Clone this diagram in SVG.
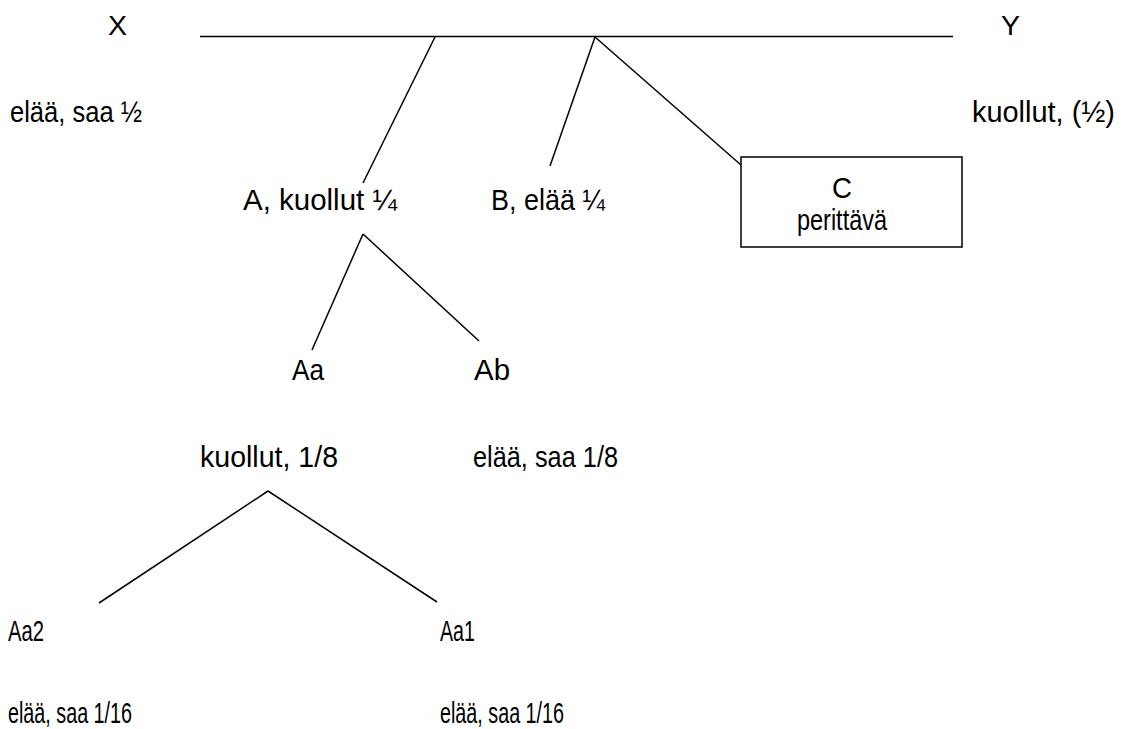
<svg xmlns="http://www.w3.org/2000/svg" width="1129" height="729" viewBox="0 0 1129 729">
<style>
text{font-family:"Liberation Sans",Arial,sans-serif;font-size:30px;fill:#000}
.big{font-size:28px}
line{stroke:#000;stroke-width:1.5}
rect{fill:#fff;stroke:#000;stroke-width:1.5}
</style>
<rect x="0" y="0" width="1129" height="729" style="stroke:none"/>
<g id="connectors">
<line x1="200" y1="36.5" x2="953" y2="36.5"/>
<line x1="435" y1="37" x2="363" y2="183"/>
<line x1="595" y1="37" x2="550" y2="166"/>
<line x1="595" y1="37" x2="741" y2="165"/>
<line x1="363" y1="234" x2="312" y2="350"/>
<line x1="363" y1="234" x2="479" y2="341"/>
<line x1="268" y1="491" x2="99" y2="603"/>
<line x1="268" y1="491" x2="437" y2="602"/>
</g>
<g id="X"><text class="big" x="108" y="35" textLength="19" lengthAdjust="spacingAndGlyphs">X</text><text x="10" y="122" textLength="132" lengthAdjust="spacingAndGlyphs">elää, saa ½</text></g>
<g id="Y"><text class="big" x="1001" y="35" textLength="19" lengthAdjust="spacingAndGlyphs">Y</text><text x="972" y="122" textLength="143" lengthAdjust="spacingAndGlyphs">kuollut, (½)</text></g>
<g id="A"><text x="243" y="210" textLength="154" lengthAdjust="spacingAndGlyphs">A, kuollut ¼</text></g>
<g id="B"><text x="491" y="210" textLength="114" lengthAdjust="spacingAndGlyphs">B, elää ¼</text></g>
<g id="C"><rect x="741" y="157" width="221" height="90"/><text x="842" y="198" text-anchor="middle" textLength="20" lengthAdjust="spacingAndGlyphs">C</text><text x="842" y="230" text-anchor="middle" textLength="90" lengthAdjust="spacingAndGlyphs">perittävä</text></g>
<g id="Aa"><text x="292" y="380" textLength="32" lengthAdjust="spacingAndGlyphs">Aa</text><text x="200" y="467" textLength="138" lengthAdjust="spacingAndGlyphs">kuollut, 1/8</text></g>
<g id="Ab"><text x="474" y="380" textLength="36" lengthAdjust="spacingAndGlyphs">Ab</text><text x="473" y="467" textLength="145" lengthAdjust="spacingAndGlyphs">elää, saa 1/8</text></g>
<g id="Aa2"><text x="8" y="641" textLength="36" lengthAdjust="spacingAndGlyphs">Aa2</text><text x="8" y="723" textLength="124" lengthAdjust="spacingAndGlyphs">elää, saa 1/16</text></g>
<g id="Aa1"><text x="440" y="641" textLength="35" lengthAdjust="spacingAndGlyphs">Aa1</text><text x="440" y="723" textLength="124" lengthAdjust="spacingAndGlyphs">elää, saa 1/16</text></g>
</svg>
